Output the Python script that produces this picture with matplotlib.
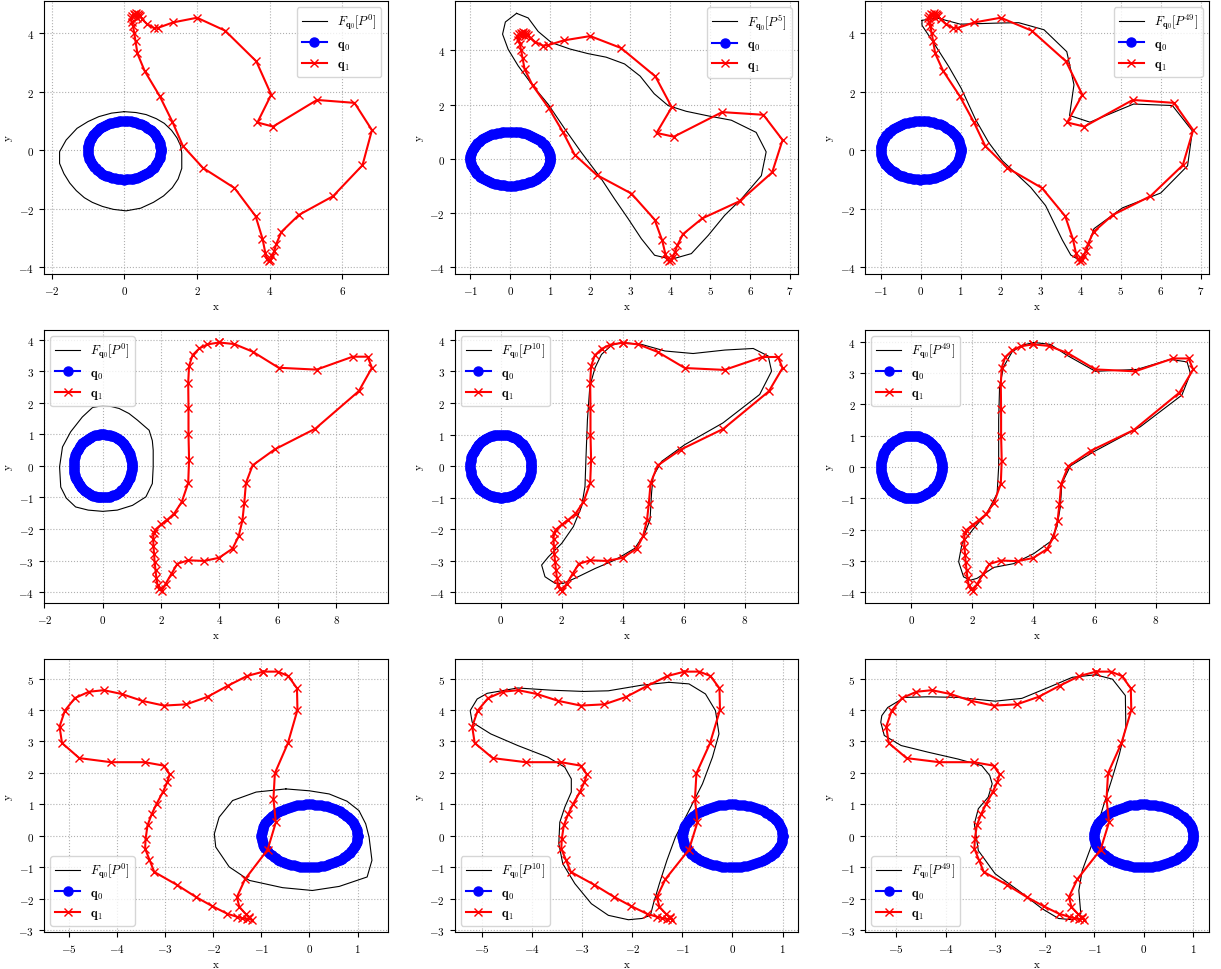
import matplotlib
matplotlib.use('Agg')
import matplotlib.pyplot as plt
import numpy as np

plt.rcParams['font.family'] = 'serif'
plt.rcParams['font.serif'] = ['cmr10', 'DejaVu Serif']
plt.rcParams['mathtext.fontset'] = 'cm'
plt.rcParams['axes.formatter.use_mathtext'] = True
plt.rcParams['font.size'] = 8

# 模板曲线 q0：单位圆上的 100 个点
n_q0 = 100

# 第一行：心形目标 q1
q1_row1 = [(0.30, 4.62), (0.38, 4.65), (0.44, 4.58), (0.50, 4.47), (0.62, 4.32),
           (0.81, 4.18), (0.94, 4.19), (1.34, 4.37), (2.00, 4.53), (2.77, 4.09),
           (3.63, 3.04), (4.04, 1.90), (3.66, 0.95), (4.09, 0.81), (5.30, 1.72),
           (6.33, 1.62), (6.81, 0.69), (6.55, -0.51), (5.74, -1.57), (4.80, -2.21),
           (4.32, -2.79), (4.18, -3.20), (4.12, -3.45), (4.07, -3.62), (4.02, -3.74),
           (3.97, -3.80), (3.92, -3.72), (3.88, -3.52), (3.80, -3.02), (3.61, -2.25),
           (3.03, -1.29), (2.16, -0.60), (1.61, 0.15), (1.32, 0.98), (0.97, 1.86),
           (0.56, 2.71), (0.36, 3.31), (0.31, 3.72), (0.27, 4.02), (0.24, 4.25),
           (0.20, 4.40), (0.18, 4.52), (0.21, 4.60), (0.26, 4.66), (0.33, 4.68),
           (0.40, 4.62), (0.36, 4.52), (0.30, 4.62)]

F_r1_p0 = [(0.0, 1.32), (0.32, 1.29), (0.6, 1.22), (0.88, 1.08), (1.1, 0.92),
           (1.3, 0.68), (1.45, 0.42), (1.55, 0.15), (1.58, -0.1), (1.58, -0.62),
           (1.48, -0.98), (1.32, -1.28), (1.08, -1.56), (0.8, -1.78), (0.45, -1.98),
           (0.05, -2.07), (-0.3, -2.02), (-0.6, -1.92), (-0.88, -1.78), (-1.1, -1.62),
           (-1.32, -1.38), (-1.5, -1.12), (-1.66, -0.8), (-1.78, -0.45), (-1.78, -0.05),
           (-1.6, 0.35), (-1.3, 0.75), (-1.0, 0.98), (-0.7, 1.15), (-0.35, 1.27),
           (0.0, 1.32)]

F_r1_p5 = [(0.16, 5.37), (0.45, 5.2), (0.7, 4.7), (1.03, 4.29), (1.5, 4.05),
           (1.95, 3.88), (2.4, 3.75), (2.86, 3.5), (3.25, 3.05), (3.6, 2.4),
           (3.95, 1.96), (4.4, 1.75), (4.95, 1.58), (5.53, 1.42), (6.15, 0.97),
           (6.40, 0.25), (6.28, -0.63), (5.78, -1.49), (5.36, -2.10), (4.95, -2.84),
           (4.53, -3.51), (4.03, -3.72), (3.61, -3.57), (3.28, -2.96), (2.95, -2.22),
           (2.61, -1.49), (2.28, -0.75), (1.78, 0.23), (1.37, 1.09), (0.95, 2.01),
           (0.57, 2.69), (0.2, 3.43), (-0.05, 4.04), (-0.19, 4.6), (-0.12, 5.05),
           (0.16, 5.37)]

F_r1_p49 = [(0.03, 4.44), (0.41, 4.52), (0.99, 4.31), (2.0, 4.35), (2.45, 4.36),
            (3.08, 4.12), (3.65, 3.37), (3.83, 2.24), (3.72, 1.19), (4.23, 0.96),
            (5.32, 1.58), (6.29, 1.53), (6.79, 0.66), (6.67, -0.53), (6.0, -1.46),
            (5.04, -1.97), (4.33, -2.68), (4.15, -3.41), (3.96, -3.75), (3.75, -3.58),
            (3.54, -3.07), (3.12, -1.89), (2.75, -1.27), (2.04, -0.36), (1.70, 0.26),
            (1.37, 1.05), (1.01, 2.12), (0.70, 2.86), (0.28, 3.76), (0.03, 4.27),
            (0.03, 4.44)]

# 第二行
q1_row2 = [(3.99, 3.91), (4.51, 3.86), (5.14, 3.62), (6.03, 3.11), (7.33, 3.05),
           (8.57, 3.46), (9.08, 3.46), (9.23, 3.11), (8.78, 2.37), (7.29, 1.18),
           (5.89, 0.52), (5.14, 0.02), (4.91, -0.54), (4.85, -1.19), (4.79, -1.72),
           (4.66, -2.23), (4.45, -2.62), (3.99, -2.91), (3.48, -3.01), (2.93, -2.99),
           (2.56, -3.10), (2.36, -3.41), (2.16, -3.73), (2.02, -3.95), (1.94, -3.90),
           (1.88, -3.78), (1.84, -3.55), (1.81, -3.30), (1.78, -3.05), (1.76, -2.80),
           (1.74, -2.55), (1.73, -2.30), (1.75, -2.12), (1.80, -2.02), (2.01, -1.85),
           (2.22, -1.70), (2.45, -1.51), (2.71, -1.14), (2.93, -0.54), (2.96, 0.20),
           (2.94, 1.00), (2.94, 1.85), (2.93, 2.64), (2.96, 3.17), (3.08, 3.51),
           (3.31, 3.72), (3.59, 3.85), (3.99, 3.91)]

F_r2_p0 = [(0.0, 1.91), (0.3, 1.88), (0.56, 1.82), (0.9, 1.66), (1.19, 1.45),
           (1.59, 1.13), (1.70, 0.8), (1.73, 0.5), (1.73, -0.03), (1.70, -0.56),
           (1.48, -0.98), (1.02, -1.25), (0.5, -1.4), (0.0, -1.44), (-0.5, -1.4),
           (-0.93, -1.30), (-1.25, -1.02), (-1.44, -0.67), (-1.48, -0.03), (-1.38, 0.60),
           (-1.10, 1.08), (-0.70, 1.55), (-0.35, 1.85), (0.0, 1.91)]

F_r2_p10 = [(3.96, 3.92), (4.61, 3.86), (5.38, 3.65), (6.30, 3.57), (7.34, 3.68),
            (8.27, 3.73), (8.76, 3.49), (8.87, 3.01), (8.48, 2.27), (7.28, 1.37),
            (6.03, 0.68), (5.27, 0.15), (4.99, -0.33), (4.94, -0.86), (4.89, -1.71),
            (4.72, -2.13), (4.39, -2.61), (3.74, -2.98), (3.09, -3.25), (2.43, -3.56),
            (2.05, -3.72), (1.78, -3.72), (1.45, -3.51), (1.34, -3.14), (1.56, -2.88),
            (2.00, -2.45), (2.38, -1.92), (2.65, -1.28), (2.76, -0.65), (2.79, 0.20),
            (2.84, 1.47), (2.92, 2.54), (3.09, 3.12), (3.30, 3.54), (3.63, 3.83),
            (3.96, 3.92)]

F_r2_p49 = [(4.01, 3.97), (4.55, 3.91), (5.10, 3.56), (6.03, 3.05), (7.39, 3.11),
            (8.48, 3.43), (9.03, 3.35), (9.14, 2.98), (8.86, 2.29), (7.50, 1.28),
            (5.97, 0.48), (5.21, 0.03), (4.93, -0.53), (4.88, -1.28), (4.77, -1.91),
            (4.55, -2.39), (4.01, -2.77), (3.35, -3.09), (2.70, -3.21), (2.15, -3.56),
            (1.93, -3.62), (1.71, -3.51), (1.55, -3.03), (1.66, -2.45), (2.04, -1.97),
            (2.48, -1.47), (2.81, -0.85), (2.86, 0.0), (2.86, 1.49), (2.89, 2.55),
            (3.02, 3.19), (3.30, 3.67), (3.62, 3.88), (4.01, 3.97)]

# 第三行
q1_row3 = [(-0.96, 5.22), (-0.66, 5.22), (-0.44, 5.08), (-0.26, 4.69), (-0.25, 4.00),
           (-0.45, 2.94), (-0.72, 1.99), (-0.75, 1.17), (-0.70, 0.43), (-0.87, -0.44),
           (-1.34, -1.38), (-1.51, -1.95), (-1.46, -2.26), (-1.32, -2.50), (-1.25, -2.58),
           (-1.20, -2.67), (-1.25, -2.62), (-1.31, -2.65), (-1.40, -2.62), (-1.50, -2.58),
           (-1.71, -2.48), (-2.02, -2.24), (-2.36, -1.95), (-2.76, -1.56), (-3.23, -1.15),
           (-3.33, -0.76), (-3.42, -0.41), (-3.41, -0.10), (-3.37, 0.33), (-3.28, 0.70),
           (-3.18, 1.02), (-3.05, 1.39), (-2.96, 1.70), (-2.91, 1.95), (-3.03, 2.23),
           (-3.43, 2.34), (-4.13, 2.34), (-4.79, 2.47), (-5.15, 2.95), (-5.20, 3.47),
           (-5.09, 3.98), (-4.88, 4.38), (-4.59, 4.58), (-4.28, 4.63), (-3.91, 4.51),
           (-3.48, 4.29), (-3.03, 4.14), (-2.56, 4.18), (-2.12, 4.42), (-1.70, 4.77),
           (-1.30, 5.08), (-0.96, 5.22)]

F_r3_p0 = [(-0.49, 1.49), (0.0, 1.43), (0.41, 1.33), (0.78, 1.1), (1.03, 0.80),
           (1.17, 0.38), (1.24, -0.04), (1.30, -0.78), (1.20, -1.31), (0.62, -1.61),
           (0.06, -1.74), (-0.56, -1.65), (-1.25, -1.42), (-1.67, -0.99), (-1.95, -0.36),
           (-1.98, 0.06), (-1.88, 0.59), (-1.60, 1.12), (-1.11, 1.39), (-0.49, 1.49)]

F_r3_p10 = [(-1.27, 4.88), (-0.87, 4.83), (-0.54, 4.51), (-0.34, 3.98), (-0.27, 3.24),
            (-0.40, 2.50), (-0.60, 1.65), (-0.87, 0.80), (-1.14, -0.04), (-1.31, -0.78),
            (-1.46, -1.52), (-1.58, -2.16), (-1.64, -2.53), (-1.81, -2.63), (-2.08, -2.67),
            (-2.48, -2.53), (-2.82, -2.16), (-3.15, -1.52), (-3.39, -0.89), (-3.47, -0.25),
            (-3.45, 0.43), (-3.35, 0.91), (-3.22, 1.39), (-3.22, 1.81), (-3.35, 2.18),
            (-3.69, 2.50), (-4.29, 2.87), (-4.83, 3.24), (-5.20, 3.61), (-5.24, 3.98),
            (-5.10, 4.35), (-4.90, 4.53), (-4.29, 4.70), (-3.62, 4.63), (-2.98, 4.59),
            (-2.48, 4.61), (-1.81, 4.79), (-1.27, 4.88)]

F_r3_p49 = [(-0.97, 5.12), (-0.63, 4.98), (-0.37, 4.46), (-0.36, 3.45), (-0.49, 2.60),
            (-0.63, 1.86), (-0.80, 1.02), (-1.04, -0.25), (-1.24, -1.10), (-1.31, -1.74),
            (-1.27, -2.48), (-1.44, -2.67), (-1.72, -2.63), (-2.05, -2.32), (-2.53, -1.74),
            (-3.00, -1.21), (-3.34, -0.47), (-3.42, 0.38), (-3.34, 0.86), (-3.14, 1.23),
            (-3.06, 1.65), (-3.11, 1.92), (-3.27, 2.23), (-3.75, 2.44), (-4.36, 2.66),
            (-4.90, 2.87), (-5.24, 3.19), (-5.31, 3.61), (-5.29, 3.82), (-5.17, 4.08),
            (-4.83, 4.40), (-4.36, 4.42), (-3.75, 4.40), (-3.00, 4.28), (-2.46, 4.37),
            (-1.92, 4.72), (-1.44, 5.04), (-0.97, 5.12)]

rows = [
    (q1_row1, [F_r1_p0, F_r1_p5, F_r1_p49], [0, 5, 49], 'upper right'),
    (q1_row2, [F_r2_p0, F_r2_p10, F_r2_p49], [0, 10, 49], 'upper left'),
    (q1_row3, [F_r3_p0, F_r3_p10, F_r3_p49], [0, 10, 49], 'lower left'),
]


def main():
    theta = np.linspace(0, 2 * np.pi, n_q0)
    q0 = np.c_[np.cos(theta), np.sin(theta)]

    fig, axes = plt.subplots(3, 3, figsize=(12.21, 9.70), dpi=100)
    fig.subplots_adjust(left=0.036, right=0.990, top=0.998, bottom=0.038,
                        wspace=0.195, hspace=0.206)

    for i, (q1, curves, iters, loc) in enumerate(rows):
        q1 = np.array(q1)
        for j in range(3):
            ax = axes[i, j]
            F = np.array(curves[j])
            ax.plot(F[:, 0], F[:, 1], 'k-', linewidth=0.8,
                    label=r'$F_{\mathbf{q}_0}[P^{%d}]$' % iters[j])
            ax.plot(q0[:, 0], q0[:, 1], 'bo-', markersize=6.5,
                    label=r'$\mathbf{q}_0$')
            ax.plot(q1[:, 0], q1[:, 1], 'rx-', markersize=6, linewidth=1.5,
                    label=r'$\mathbf{q}_1$')
            ax.grid(True, linestyle=':', color='#b0b0b0', linewidth=0.8)
            ax.set_xlabel('x')
            ax.set_ylabel('y')
            ax.legend(loc=loc, fontsize=9)

    fig.savefig('out.png', dpi=100)


if __name__ == '__main__':
    main()
